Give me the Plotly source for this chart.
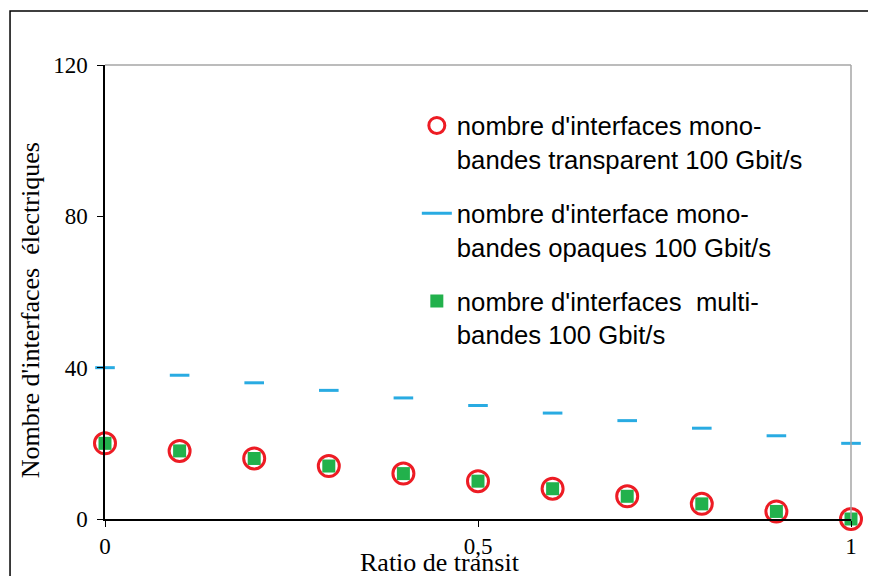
import plotly.graph_objects as go

ratio = [0, 0.1, 0.2, 0.3, 0.4, 0.5, 0.6, 0.7, 0.8, 0.9, 1.0]
mono_transparent = [20, 18, 16, 14, 12, 10, 8, 6, 4, 2, 0]
mono_opaque = [40, 38, 36, 34, 32, 30, 28, 26, 24, 22, 20]
multi_bandes = [20, 18, 16, 14, 12, 10, 8, 6, 4, 2, 0]

x_tickvals = [0, 0.5, 1]
x_ticktext = ["0", "0,5", "1"]
y_tickvals = [0, 40, 80, 120]

names = [
    "nombre d'interfaces mono-<br>bandes transparent 100 Gbit/s",
    "nombre d'interface mono-<br>bandes opaques 100 Gbit/s",
    "nombre d'interfaces  multi-<br>bandes 100 Gbit/s",
]

RED = "#ED1C24"
BLUE = "#29ABE2"
GREEN = "#22B14C"

fig = go.Figure()
fig.add_trace(go.Scatter(
    x=ratio, y=mono_transparent, mode="markers", name=names[0],
    marker=dict(symbol="circle-open", size=21, color=RED, line=dict(width=3, color=RED)),
    cliponaxis=False, legendgroup="a", showlegend=True,
))
fig.add_trace(go.Scatter(
    x=ratio, y=mono_opaque, mode="markers", name=names[1],
    marker=dict(symbol="line-ew", size=14, color=BLUE, line=dict(width=3, color=BLUE)),
    cliponaxis=False, legendgroup="b", showlegend=False,
))
fig.add_trace(go.Scatter(
    x=[None], y=[None], mode="lines", name=names[1],
    line=dict(color=BLUE, width=3), legendgroup="b", showlegend=True,
))
fig.add_trace(go.Scatter(
    x=ratio, y=multi_bandes, mode="markers", name=names[2],
    marker=dict(symbol="square", size=13, color=GREEN),
    cliponaxis=False, legendgroup="c", showlegend=True,
))

axis_font = dict(family="Liberation Serif", size=23, color="black")

fig.update_layout(
    width=868, height=568,
    margin=dict(l=97, r=25, t=57, b=57),
    paper_bgcolor="white", plot_bgcolor="white",
    showlegend=True,
    legend=dict(
        x=0.418, y=0.918, xanchor="left", yanchor="top",
        font=dict(family="Liberation Sans", size=25.7, color="black"),
        bgcolor="rgba(0,0,0,0)", tracegroupgap=18,
        itemwidth=30, valign="top",
    ),
    xaxis=dict(
        range=[0, 1], tickvals=x_tickvals, ticktext=x_ticktext,
        showline=True, linecolor="black", linewidth=1.5,
        ticks="outside", ticklen=6, tickcolor="black",
        showgrid=False, zeroline=False, tickfont=axis_font,
    ),
    yaxis=dict(
        range=[0, 120], tickvals=y_tickvals,
        showline=True, linecolor="black", linewidth=1.5,
        ticks="outside", ticklen=6, tickcolor="black",
        showgrid=False, zeroline=False, tickfont=axis_font,
        ticklabelstandoff=5,
    ),
    shapes=[
        dict(type="line", xref="paper", yref="paper", x0=0, x1=1, y0=1, y1=1,
             line=dict(color="#A6A6A6", width=1.5)),
        dict(type="line", xref="paper", yref="paper", x0=1, x1=1, y0=0, y1=1,
             line=dict(color="#A6A6A6", width=1.5)),
        dict(type="rect", xref="paper", yref="paper", x0=-0.1273, x1=1.2, y0=-0.3, y1=1.119,
             line=dict(color="black", width=1.5), layer="below"),
    ],
    annotations=[
        dict(text="Ratio de transit", xref="paper", yref="paper", x=0.449, y=-0.095,
             xanchor="center", yanchor="middle", showarrow=False,
             font=dict(family="Liberation Serif", size=26, color="black")),
        dict(text="Nombre d'interfaces  électriques", xref="paper", yref="paper", x=-0.1005, y=0.46,
             xanchor="center", yanchor="middle", showarrow=False, textangle=-90,
             font=dict(family="Liberation Serif", size=26, color="black")),
    ],
)

fig.write_html("out.html")
